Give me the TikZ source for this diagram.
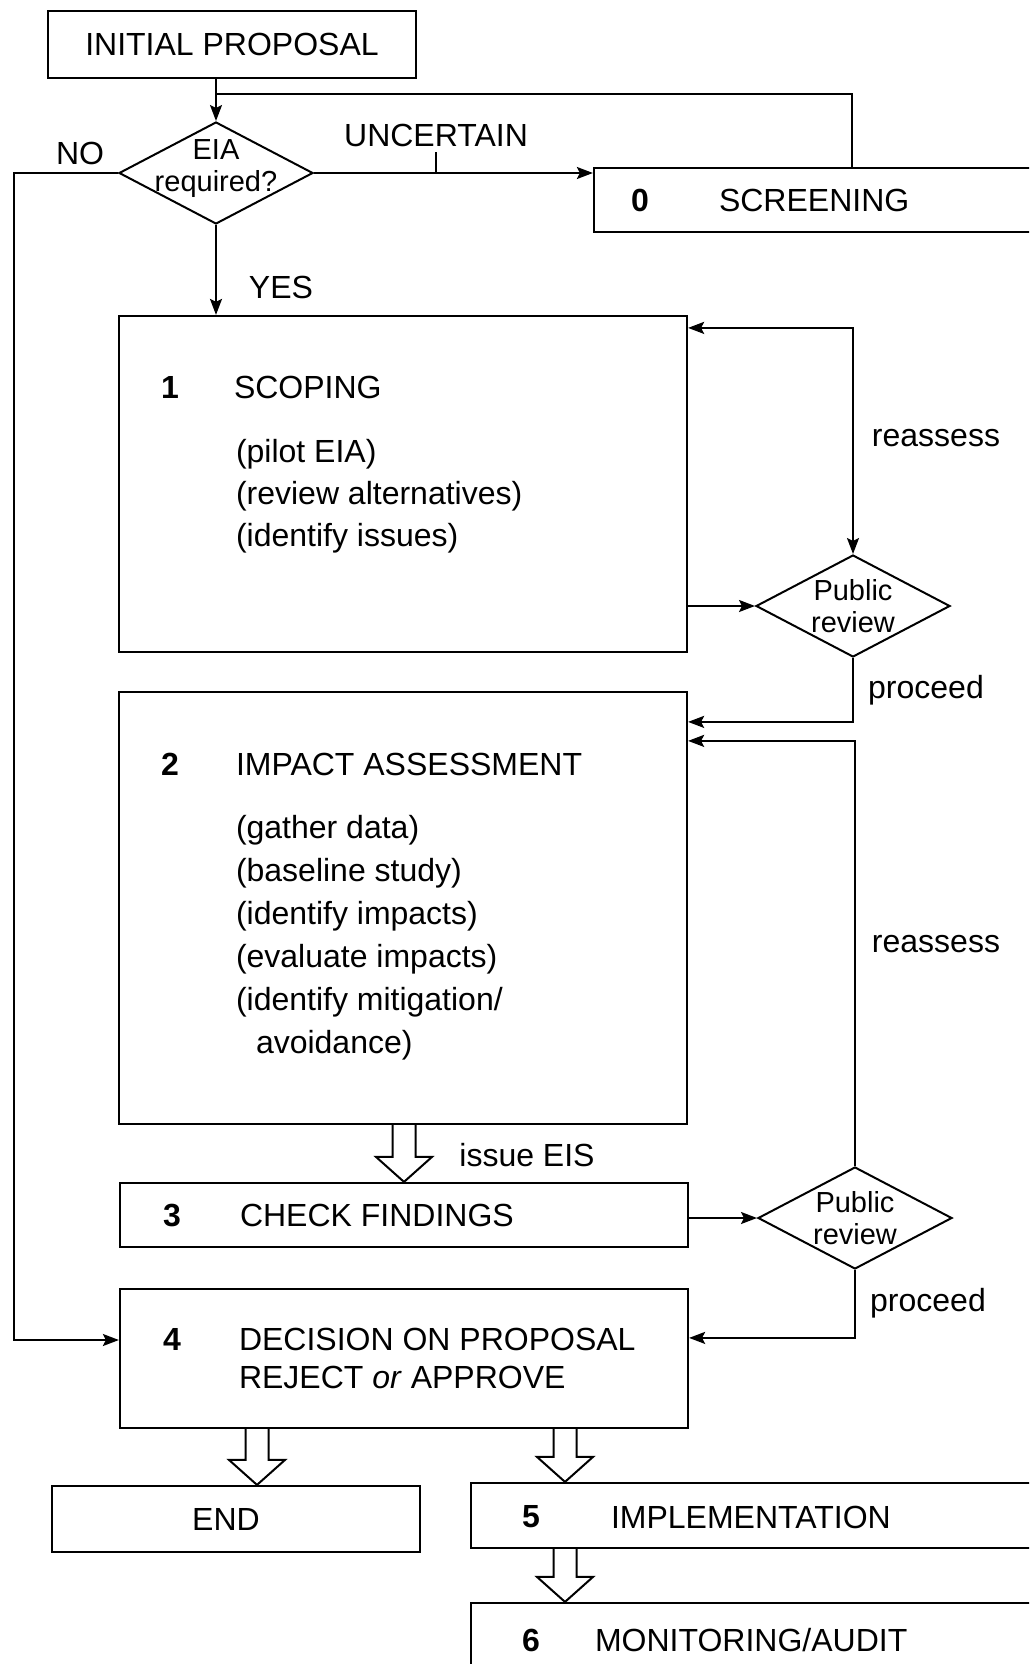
\documentclass[tikz,border=0pt]{standalone}
\usepackage{fontspec}
\setmainfont{Liberation Sans}
\usetikzlibrary{arrows.meta,
                calc,
                shapes.geometric
            }

\newcommand{\fatarrow}[2]{%
    \draw[line width=1pt, fill=white] let \p1=#1, \p2=#2 in
        (\x1-5.75pt,\y1) -- (\x1-5.75pt,\y2+12.5pt) -- (\x1-14pt,\y2+12.5pt) -- (\x1,\y2)
        -- (\x1+14pt,\y2+12.5pt) -- (\x1+5.75pt,\y2+12.5pt) -- (\x1+5.75pt,\y1);}

\begin{document}
\begin{tikzpicture}[x=0.5pt, y=-0.5pt, line width=1pt,
        every node/.style={font=\fontsize{16pt}{21pt}\selectfont},
        stage/.style={draw, line width=1.1pt, minimum width=284pt, inner sep=0pt},
        decision/.style={draw, diamond, minimum width=97pt, minimum height=51pt, inner sep=0pt},
        dtext/.style={align=center, font=\fontsize{14.5pt}{16pt}\selectfont, inner sep=0pt},
        num/.style={font=\fontsize{16pt}{21pt}\selectfont\bfseries, inner sep=0pt},
        txt/.style={anchor=west, inner sep=0pt},
        arr/.style={-{Stealth[length=8pt,width=6pt,inset=1.5pt]}},
        arrboth/.style={{Stealth[length=8pt,width=6pt,inset=1.5pt]}-{Stealth[length=8pt,width=6pt,inset=1.5pt]}}
    ]
            \clip (0,0) rectangle (1029,1664);

            \node[stage, minimum width=184pt, minimum height=33.5pt] (init) at (232,44.5) {INITIAL PROPOSAL};
            \node[decision] (eia) at (216,173) {};
            \node[dtext] at ([yshift=2pt]eia.center) {EIA\\required?};
            \node[stage, minimum width=223pt, minimum height=32pt] (scr) at (817,200) {};
            \node[num] at (640,200) {0};
            \node[txt] at (718,200) {SCREENING};

            \node[stage, minimum height=168pt] (box1) at (403,484) {};
            \node[num] at (170,387) {1};
            \node[txt] at (233,387) {SCOPING};
            \node[txt, align=left] at (235,496.5) {(pilot EIA)\\(review alternatives)\\(identify issues)};
            \node[decision] (pr1) at (853,606) {};
            \node[dtext] at (pr1) {Public\\review};

            \node[stage, minimum height=216pt] (box2) at (403,908) {};
            \node[num] at (170,764) {2};
            \node[txt] at (235,764) {IMPACT ASSESSMENT};
            \node[txt, align=left, font=\fontsize{16pt}{21.5pt}\selectfont] at (235,937.5)
                {(gather data)\\(baseline study)\\(identify impacts)\\(evaluate impacts)\\(identify mitigation/\\\hspace*{10pt}avoidance)};

            \node[stage, minimum height=32pt] (box3) at (404,1215) {};
            \node[num] at (172,1215) {3};
            \node[txt] at (239,1215) {CHECK FINDINGS};
            \node[decision] (pr2) at (855,1218) {};
            \node[dtext] at (pr2) {Public\\review};

            \node[stage, minimum height=69.5pt] (box4) at (404,1358.5) {};
            \node[num] at (172,1339) {4};
            \node[txt] at (238,1339) {DECISION ON PROPOSAL};
            \node[txt] at (238,1377) {REJECT \textit{or} APPROVE};

            \node[stage, minimum width=184pt, minimum height=33pt] (end) at (236,1519) {};
            \node at (226,1519) {END};
            \node[stage, minimum width=284.5pt, minimum height=32.5pt] (box5) at (755.5,1515.5) {};
            \node[num] at (531,1517) {5};
            \node[txt] at (610,1517) {IMPLEMENTATION};
            \node[stage, minimum width=284.5pt, minimum height=33.5pt] (box6) at (755.5,1636.5) {};
            \node[num] at (531,1640) {6};
            \node[txt] at (594,1640) {MONITORING/AUDIT};

            \coordinate (fb) at (852,94);
            \coordinate (nol) at (14,1340);
            \coordinate (c404) at (404,0);
            \coordinate (c257) at (257,0);
            \coordinate (c565) at (565,0);

            \draw[arr] (eia.north |- init.south) -- (eia.north);
            \draw (fb |- scr.north) -- (fb) -- (fb -| eia.north);
            \draw[arr] (eia.east) -- coordinate[pos=0.436] (tk) (eia.east -| scr.west);
            \draw (tk) -- ++(0,-21);
            \node at (436,135) {UNCERTAIN};
            \draw[arr] (eia.west) -| (nol) -- (nol -| box4.west);
            \node at (80,153) {NO};
            \draw[arr] (eia.south) -- (eia.south |- box1.north);
            \node at (281,287) {YES};

            \draw[arr] (box1.east |- pr1.west) -- (pr1.west);
            \draw[arrboth] ([yshift=-6.5pt]box1.north east) -| (pr1.north);
            \node at (936,438) {reassess};
            \draw[arr] (pr1.south) |- ([yshift=-15.5pt]box2.north east);
            \node at (926,690) {proceed};

            \draw[arr] (pr2.north) |- ([yshift=-25pt]box2.north east);
            \node at (936,944) {reassess};
            \draw[arr] (box3.east |- pr2.west) -- (pr2.west);
            \draw[arr] (pr2.south) |- ([yshift=-25pt]box4.north east);
            \node at (928,1303) {proceed};

            \fatarrow{(c404 |- box2.south)}{(c404 |- box3.north)}
            \node at (527,1155) {issue EIS};
            \fatarrow{(c257 |- box4.south)}{(c257 |- end.north)}
            \fatarrow{(c565 |- box4.south)}{(c565 |- box5.north)}
            \fatarrow{(c565 |- box5.south)}{(c565 |- box6.north)}
        \end{tikzpicture}
\end{document}
